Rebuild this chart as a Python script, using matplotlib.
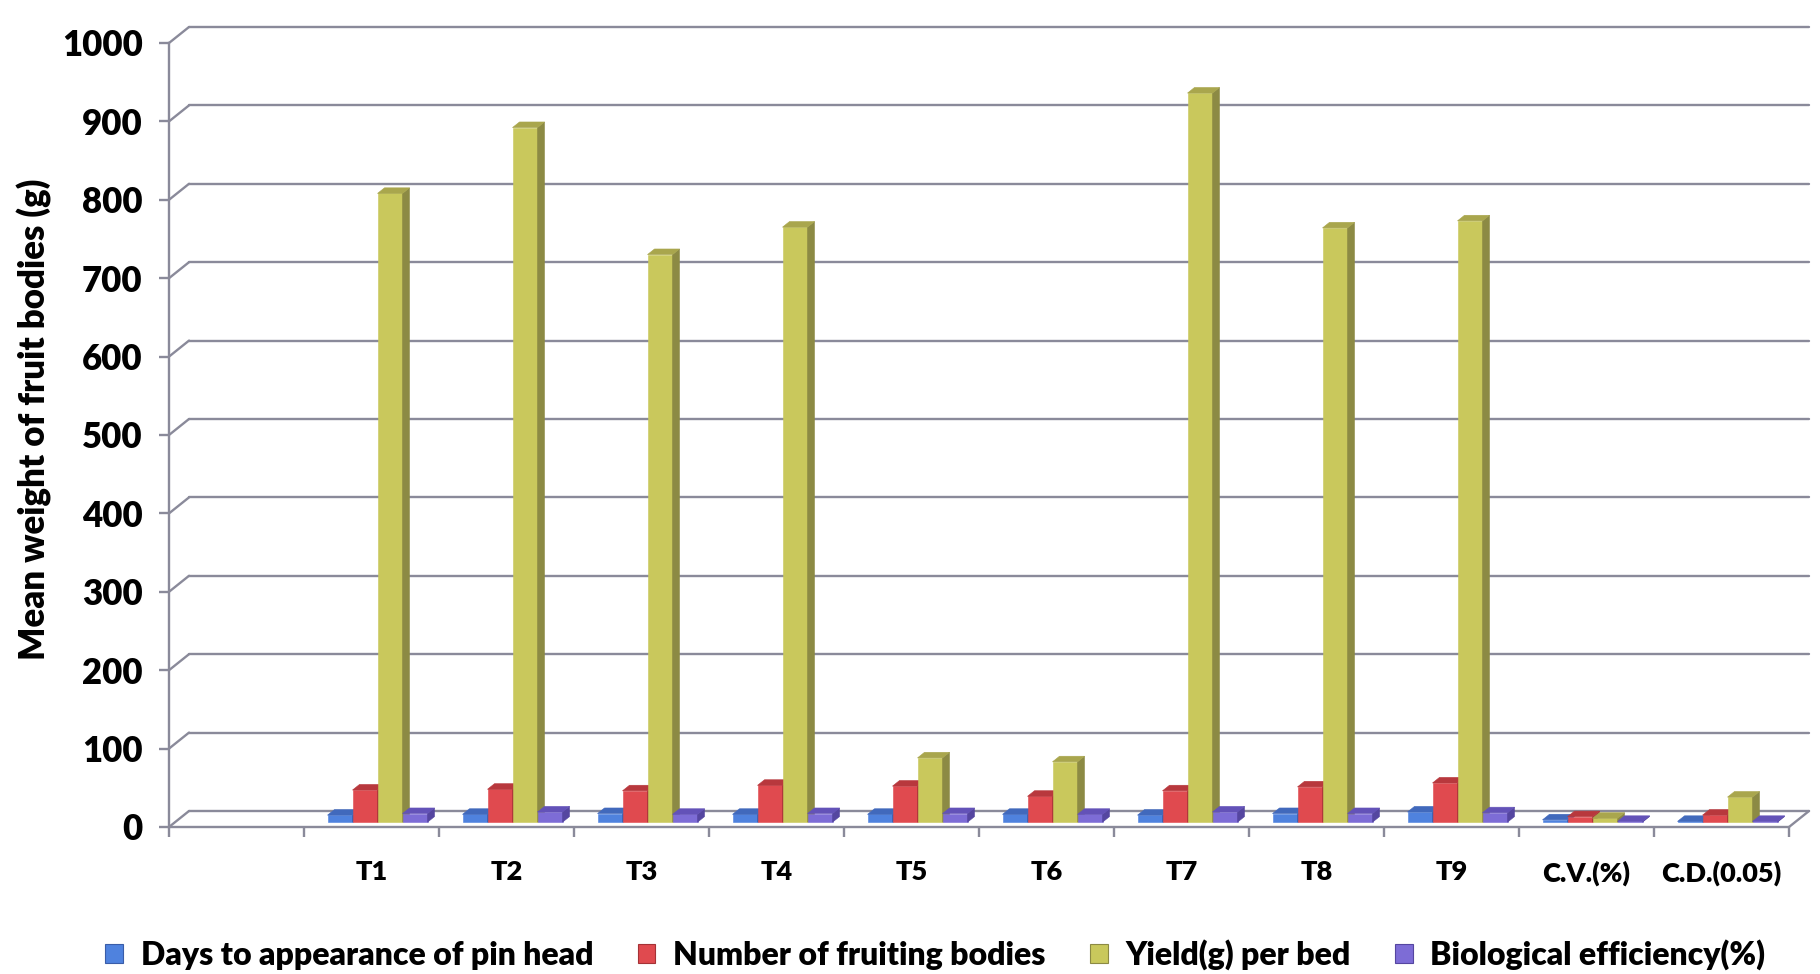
import numpy as np
import matplotlib
matplotlib.use("Agg")
import matplotlib.pyplot as plt
from matplotlib.patches import Polygon, Patch

plt.rcParams["font.family"] = ["Lato", "DejaVu Sans"]
plt.rcParams["font.weight"] = "heavy"

# ---- data -------------------------------------------------------------
categories = ["", "T1", "T2", "T3", "T4", "T5", "T6", "T7", "T8", "T9",
              "C.V.(%)", "C.D.(0.05)"]
series_names = ["Days to appearance of pin head", "Number of fruiting bodies",
                "Yield(g) per bed", "Biological efficiency(%)"]
days_to_pinhead = [np.nan, 9, 10, 11, 10, 10, 10, 9, 11, 13, 3, 1]
fruiting_bodies = [np.nan, 41, 42, 40, 47, 46, 33, 40, 45, 50, 7, 9]
yield_per_bed = [np.nan, 802, 886, 724, 759, 82, 77, 930, 758, 767, 5, 32]
bio_efficiency = [np.nan, 11, 13, 10, 11, 11, 10, 13, 11, 12, 1, 1]
y_ticks = list(range(0, 1001, 100))
y_label = "Mean weight of fruit bodies (g)"

# ---- styling ----------------------------------------------------------
face_colors = ["#4F82DE", "#E04A4F", "#C9C85C", "#7D6CD6"]
top_colors = ["#4169BC", "#B8383D", "#A9A64D", "#6352B8"]
side_colors = ["#3A5DA8", "#A53236", "#8C8A44", "#5546A0"]
grid_color = "#8A8A9A"

W, H = 1820, 974
fig = plt.figure(figsize=(W / 100, H / 100), dpi=100)
# plot area: x 0..12 spans 169..1789 px, y 0..1000 spans 827..43 px
ax = fig.add_axes([169 / W, (H - 827) / H, 1620 / W, 784 / H])
ax.set_xlim(0, len(categories))
ax.set_ylim(0, 1000)
ax.set_facecolor("none")

px_x = 1620 / len(categories)   # pixels per category
px_y = 784 / 1000               # pixels per value unit
DX = 20 / px_x                  # depth offset of back wall (x, data units)
DY = 16 / px_y                  # depth offset of back wall (y, data units)
z_front, z_back = 0.3, 0.65     # bar depth within the floor
bar_w = 25 / px_x

line_kw = dict(color=grid_color, lw=1.7, clip_on=False, zorder=1,
               solid_capstyle="round")
n = len(categories)
# back-wall gridlines and their diagonal ties to the value axis
for v in y_ticks:
    ax.plot([DX, n + DX], [v + DY, v + DY], **line_kw)
    ax.plot([0, DX], [v, v + DY], **line_kw)
# floor outline
ax.plot([0, n], [0, 0], **line_kw)
ax.plot([n, n + DX], [0, DY], **line_kw)

# ---- bars: front faces through ax.bar, top/side faces as polygons ------
series = [days_to_pinhead, fruiting_bodies, yield_per_bed, bio_efficiency]
x_center = np.arange(n) + 0.5
ddx = (z_back - z_front) * DX
ddy = (z_back - z_front) * DY
base = z_front * DY
for ci in range(n):
    for si, vals in enumerate(series):
        v = vals[ci]
        if np.isnan(v):
            continue
        x0 = x_center[ci] + (si - 2) * bar_w + z_front * DX
        x1 = x0 + bar_w
        top = base + v
        ax.bar(x0, v, width=bar_w, bottom=base, align="edge",
               color=face_colors[si], edgecolor=face_colors[si], lw=0.4,
               zorder=3, clip_on=False)
        ax.add_patch(Polygon([(x1, base), (x1, top), (x1 + ddx, top + ddy),
                              (x1 + ddx, base + ddy)], closed=True,
                             facecolor=side_colors[si], edgecolor=side_colors[si],
                             lw=0.4, zorder=3, clip_on=False))
        ax.add_patch(Polygon([(x0, top), (x1, top), (x1 + ddx, top + ddy),
                              (x0 + ddx, top + ddy)], closed=True,
                             facecolor=top_colors[si], edgecolor=top_colors[si],
                             lw=0.4, zorder=3, clip_on=False))

# ---- axes -------------------------------------------------------------
for side in ("top", "right", "bottom"):
    ax.spines[side].set_visible(False)
ax.spines["left"].set_color(grid_color)
ax.spines["left"].set_linewidth(1.7)

ax.set_yticks(y_ticks)
ax.set_yticklabels([str(t) for t in y_ticks], fontsize=25, fontweight="heavy")
ax.tick_params(axis="y", length=7, width=1.7, color=grid_color, pad=12)

ax.set_xticks(np.arange(n + 1))
ax.set_xticklabels([])
ax.tick_params(axis="x", which="major", length=7, width=1.7, color=grid_color)
ax.set_xticks(x_center, minor=True)
ax.set_xticklabels(categories, minor=True, fontsize=19.5, fontweight="heavy")
ax.tick_params(axis="x", which="minor", length=0, pad=24)

ax.set_ylabel(y_label, fontsize=25, fontweight="heavy")
ax.yaxis.set_label_coords(-0.072, 0.52)

handles = [Patch(facecolor=c, edgecolor=s, lw=0.8) for c, s in zip(face_colors, side_colors)]
fig.legend(handles, series_names, loc="center", ncol=4,
           bbox_to_anchor=(0.514, (H - 955) / H), frameon=False,
           prop=dict(size=23, weight="heavy"), handlelength=0.55,
           handleheight=0.55, handletextpad=0.55, columnspacing=1.4)

fig.savefig("out.png", dpi=100, facecolor="white")
